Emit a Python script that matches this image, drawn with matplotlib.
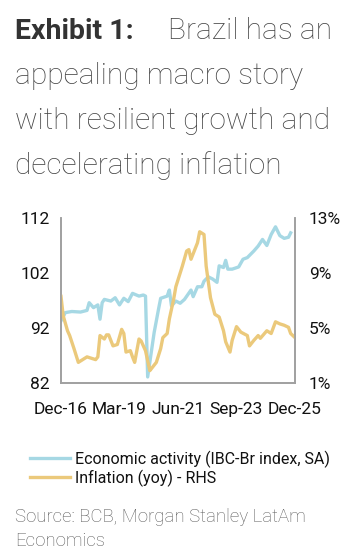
import matplotlib
matplotlib.use('Agg')
import matplotlib.pyplot as plt

# months since Dec-16
activity_month = [0, 2, 5, 9, 12, 13, 15, 17, 18, 19, 20, 23, 25, 27, 29, 31, 33, 36, 38, 39,
                  40, 43, 45, 46, 49, 50, 51, 53, 55, 57, 60, 61, 63, 65, 66, 68, 70, 72, 73,
                  75, 76, 77, 79, 82, 84, 86, 89, 91, 93, 95, 97, 99, 101, 103, 105, 106]
activity = [93.3, 94.8, 95.0, 94.9, 95.2, 96.6, 95.7, 96.2, 93.6, 96.6, 97.2, 96.9, 97.5, 96.2,
            97.4, 96.8, 98.3, 97.8, 98.0, 97.8, 83.1, 91.2, 95.4, 97.4, 97.8, 98.9, 96.0, 96.9,
            96.5, 97.2, 98.9, 97.7, 99.5, 99.5, 100.5, 101.3, 100.9, 100.3, 103.3, 103.0, 104.3,
            102.7, 102.7, 103.1, 104.5, 104.8, 106.0, 106.9, 108.1, 107.0, 109.0, 110.4, 108.8,
            108.3, 108.5, 109.3]

inflation_month = [0, 1, 3, 4, 6, 8, 10, 12, 14, 16, 17, 18, 20, 21, 22, 24, 26, 28, 29, 30,
                   32, 33, 34, 36, 37, 39, 41, 42, 44, 46, 47, 49, 50, 52, 53, 56, 58, 59, 60,
                   61, 63, 64, 65, 66, 67, 69, 71, 73, 75, 76, 78, 79, 81, 83, 86, 87, 89, 91,
                   92, 95, 97, 99, 101, 103, 105, 106, 108]
inflation = [7.3, 5.9, 4.8, 4.45, 3.5, 2.5, 2.7, 2.9, 2.8, 2.7, 2.9, 4.45, 4.2, 4.5, 4.5, 3.7,
             3.8, 4.9, 4.6, 3.25, 3.35, 2.9, 2.5, 4.2, 4.05, 3.35, 1.9, 2.1, 2.5, 3.5, 4.3, 4.6,
             5.65, 7.1, 8.0, 9.5, 10.6, 10.7, 10.0, 10.4, 11.2, 12.0, 11.9, 11.8, 9.5, 7.2, 6.0,
             5.8, 4.8, 4.0, 3.25, 4.1, 5.1, 4.7, 4.45, 3.7, 4.1, 4.45, 4.25, 4.8, 4.6, 5.45, 5.3,
             5.2, 5.05, 4.6, 4.3]

tick_month = [0, 27, 54, 81, 108]
tick_label = ['Dec-16', 'Mar-19', 'Jun-21', 'Sep-23', 'Dec-25']
left_ticks = [82, 92, 102, 112]
right_ticks = [1, 5, 9, 13]

blue = '#a6d8e4'
gold = '#ebc97b'
spine_col = '#a0a0a0'
W, H = 354, 556

plt.rcParams['font.family'] = ['Roboto', 'DejaVu Sans']

fig = plt.figure(figsize=(W / 100, H / 100), dpi=100)

def px(x, y):
    return x / W, 1 - y / H

ax = fig.add_axes([61 / W, 1 - 383 / H, (295 - 61) / W, (383 - 218) / H])
ax2 = ax.twinx()

ax.plot(activity_month, activity, color=blue, lw=2.4, solid_joinstyle='round')
ax2.plot(inflation_month, inflation, color=gold, lw=2.4, solid_joinstyle='round')

ax.set_xlim(0, 108)
ax.set_ylim(82, 112)
ax2.set_ylim(1, 13)
ax.set_xticks(tick_month)
ax.set_xticklabels(tick_label)
ax.set_yticks(left_ticks)
ax2.set_yticks(right_ticks)
ax2.set_yticklabels([f'{v}%' for v in right_ticks])

for a in (ax, ax2):
    a.patch.set_visible(False)
    a.spines['top'].set_visible(False)
    for s in ('left', 'right', 'bottom'):
        a.spines[s].set_color(spine_col)
        a.spines[s].set_linewidth(1.2)
    a.tick_params(length=0, labelsize=12.5, colors='#111111')
ax.tick_params(axis='y', pad=8)
ax.tick_params(axis='x', pad=14)
ax2.tick_params(axis='y', pad=10)
ax2.set_zorder(ax.get_zorder() + 1)

# title
fig.text(*px(15, 39), 'Exhibit 1:', fontsize=20.5, fontweight='bold', color='#333333',
         va='baseline')
fig.text(*px(168, 39), 'Brazil has an', fontsize=21.5, fontweight='light', color='#444444',
         va='baseline')
for i, line in enumerate(['appealing macro story', 'with resilient growth and',
                          'decelerating inflation']):
    fig.text(*px(15, 84 + 45 * i), line, fontsize=21.5, fontweight='light',
             color='#444444', va='baseline')

# legend
h1, = ax.plot([], [], color=blue, lw=2.4)
h2, = ax.plot([], [], color=gold, lw=2.4)
fig.legend([h1, h2], ['Economic activity (IBC-Br index, SA)', 'Inflation (yoy) - RHS'],
           loc='upper left', bbox_to_anchor=px(24, 444), frameon=False, fontsize=11.5,
           handlelength=2.5, handletextpad=0.3, labelspacing=0.1, borderaxespad=0,
           labelcolor='#111111')

# source
fig.text(*px(15, 521.5), 'Source: BCB, Morgan Stanley LatAm', fontsize=13.4,
         fontweight='light', color='#5a5a5a', va='baseline')
fig.text(*px(15, 546.5), 'Economics', fontsize=13.4, fontweight='light', color='#5a5a5a',
         va='baseline')

fig.savefig('out.png', dpi=100)
